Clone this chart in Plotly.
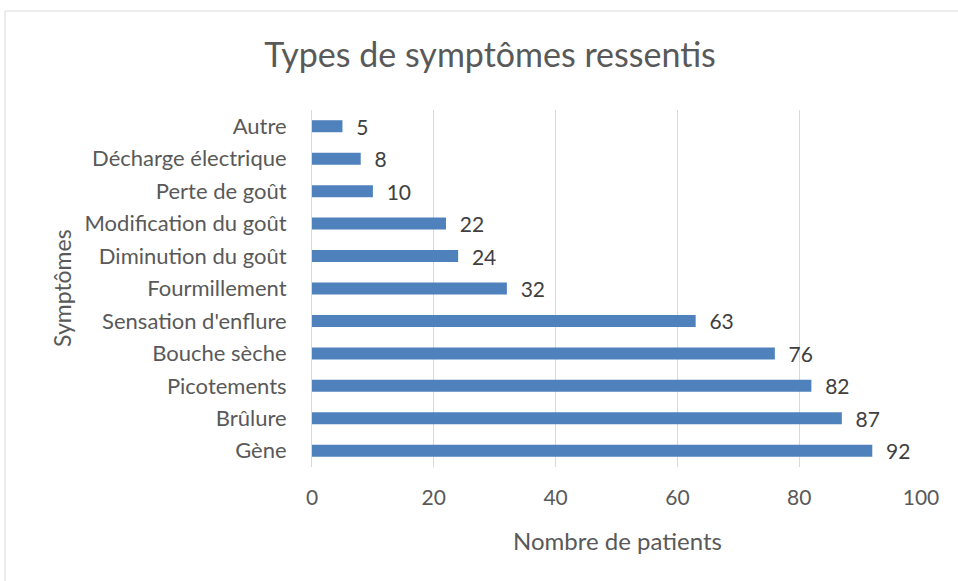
import plotly.graph_objects as go

categories = ["Gène", "Brûlure", "Picotements", "Bouche sèche", "Sensation d'enflure",
              "Fourmillement", "Diminution du goût", "Modification du goût",
              "Perte de goût", "Décharge électrique", "Autre"]
patients = [92, 87, 82, 76, 63, 32, 24, 22, 10, 8, 5]
x_ticks = [0, 20, 40, 60, 80, 100]

font_name = "Lato, Open Sans, sans-serif"
grey = "#595959"

fig = go.Figure(go.Bar(
    y=categories,
    x=patients,
    orientation="h",
    marker=dict(color="#4F81BD", line=dict(color="#4F81BD", width=0)),
    text=["\u00a0\u00a0" + str(v) for v in patients],
    textposition="outside",
    constraintext="none",
    textfont=dict(family=font_name, size=21, color="#404040"),
    cliponaxis=False,
    hoverinfo="skip",
))

fig.update_layout(
    width=958, height=581,
    margin=dict(l=312, r=37, t=110, b=114),
    paper_bgcolor="white", plot_bgcolor="white",
    bargap=0.63,
    showlegend=False,
    font=dict(family=font_name, color=grey, size=18),
    title=dict(text="Types de symptômes ressentis", x=490 / 958, xanchor="center",
               y=1 - 55 / 581, yanchor="middle",
               font=dict(family=font_name, size=34, color=grey)),
    xaxis=dict(range=[0, 100], tickvals=x_ticks, showgrid=True, gridcolor="#D9D9D9",
               gridwidth=1, zeroline=False, showline=False, ticks="",
               tickfont=dict(size=21, color=grey), ticklabelstandoff=16),
    yaxis=dict(showgrid=False, showline=True, linecolor="#D9D9D9", linewidth=1,
               ticks="", tickfont=dict(size=22, color=grey), ticklabelstandoff=20),
    shapes=[dict(type="rect", xref="paper", yref="paper",
                 x0=(5 - 312) / 609, x1=(960 - 312) / 609,
                 y0=-(585 - 467) / 357, y1=1 + (110 - 11) / 357,
                 line=dict(color="#D9D9D9", width=1))],
    annotations=[
        dict(text="Nombre de patients", xref="paper", yref="paper",
             x=(617 - 312) / 609, y=-(540 - 467) / 357, xanchor="center", yanchor="middle",
             showarrow=False, font=dict(family=font_name, size=24, color=grey)),
        dict(text="Symptômes", xref="paper", yref="paper", textangle=-90,
             x=(62 - 312) / 609, y=1 - (288 - 110) / 357, xanchor="center", yanchor="middle",
             showarrow=False, font=dict(family=font_name, size=23, color=grey)),
    ],
)

fig.write_html("out.html", config={"displayModeBar": False},
               post_script="document.body.style.margin='0';")
